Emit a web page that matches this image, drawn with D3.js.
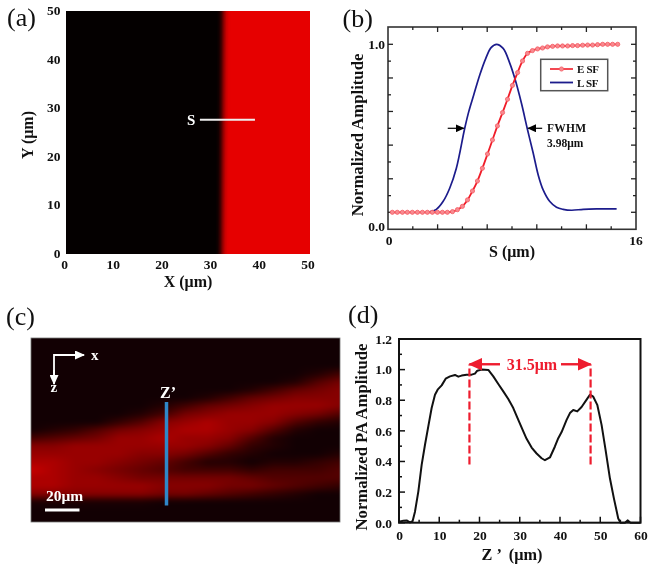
<!DOCTYPE html>
<html><head><meta charset="utf-8">
<script src="https://cdn.jsdelivr.net/npm/d3@7"></script>
<style>
html,body{margin:0;padding:0;background:#fff;}
#wrap{position:relative;width:655px;height:569px;overflow:hidden;}
canvas,svg{position:absolute;left:0;top:0;}
text{font-family:"Liberation Serif","Times New Roman",serif;font-weight:bold;fill:#111;}
</style></head><body><div id="wrap"></div>
<script>
// ---------- data ----------
const aTicks=[0,10,20,30,40,50];
const edgeX=[30.8,31.3,31.8,32.3,32.8,33.3,33.8];
const edgeLevel=[0,0.06,0.28,0.62,0.88,0.98,1];
const edgeShiftY=[0,50], edgeShift=[-0.2,0.1];
const sLine=[27.6,38.9], sLineY=27.5;

const esfS=[0.28,0.6,0.93,1.25,1.57,1.9,2.22,2.54,2.86,3.19,3.51,3.83,4.16,4.48,4.8,5.13,5.45,5.77,6.09,6.42,6.74,7.06,7.39,7.71,8.03,8.36,8.68,9,9.32,9.65,9.97,10.29,10.62,10.94,11.26,11.59,11.91,12.23,12.56,12.88,13.2,13.52,13.85,14.17,14.49,14.82];
const esfV=[.092,.092,.092,.092,.092,.092,.092,.092,.092,.092,.092,.092,.0955,.106,.124,.159,.207,.261,.33,.407,.483,.559,.631,.703,.778,.847,.91,.951,.966,.975,.98,.986,.989,.991,.991,.991,.993,.993,.995,.996,.996,.998,1,1,1,1];
const lsfS=[2.69,3.12,3.55,3.98,4.41,4.95,5.21,5.53,5.92,6.31,6.65,7,7.43,7.86,8.18,8.61,8.98,9.37,9.69,10.01,10.44,10.87,11.3,11.84,12.6,13.46,14.75];
const lsfV=[.094,.108,.15,.222,.33,.546,.636,.726,.834,.924,.982,1,.978,.897,.816,.681,.546,.411,.294,.213,.15,.119,.108,.103,.108,.11,.11];
const bMajorY=[1,.818,.637,.455,.273,.092];
const bMinorY=[.909,.727,.546,.364,.182];
const bTopTicks=[1.6,3.2,4.8,6.4,8,9.6,11.2,12.8,14.4];
const fwhmV=.546, fwhmLeft=4.95, fwhmRight=8.98;

const cRows=[
[0,0,0,0,0,0,0,0,0,0,0,0,0,0,0],
[0,0,0,0,0,0,0,0,0,0,0,0,0,1,3],
[0,0,0,0,0,0,0,0,0,0,0,0,1,4,6],
[0,0,0,0,0,0,0,0,0,0,1,3,5,6,7],
[0,0,0,0,0,0,0,0,1,3,5,6,7,7,7],
[0,0,0,0,0,0,1,3,5,6,7,8,8,8,7],
[0,0,0,0,0,1,3,6,7,8,8,8,7,6,4],
[0,0,0,0,2,4,7,8,9,8,8,7,4,2,1],
[0,1,2,4,6,7,8,9,9,8,7,4,1,0,0],
[3,4,5,6,8,8,9,8,8,7,4,1,0,0,0],
[7,7,8,8,8,8,8,8,7,5,2,1,0,0,0],
[8,8,8,8,8,7,7,6,4,2,1,0,0,0,1],
[9,9,8,8,7,6,5,3,1,1,0,1,1,2,3],
[10,9,8,7,6,5,4,3,3,3,2,3,3,3,4],
[9,9,8,8,7,6,6,6,6,6,5,4,4,4,4],
[9,9,8,8,8,8,7,7,7,6,6,5,4,3,2],
[7,7,7,7,7,7,6,6,5,4,3,2,1,0,0],
[.5,.5,.5,.5,.5,.5,0,0,0,0,0,0,0,0,0],
[0,0,0,0,0,0,0,0,0,0,0,0,0,0,0]];
const cLevels=[0,3,5,8,9,10];
const cColors=["#120003","#420000","#640000","#980000","#ac0000","#c80000"];

const dZ=[0,1.08,1.9,2.73,3.39,3.97,4.8,5.63,6.46,7.28,8.11,8.94,9.6,10.6,11.59,12.67,13.91,14.74,15.56,16.8,18.05,18.87,19.45,20.53,22.19,23.43,24.67,25.91,27.15,28.39,29.64,30.88,31.7,32.95,34.19,35.43,36.26,37.5,38.74,39.57,40.4,41.64,42.47,43.29,44.29,45.36,46.61,47.43,48.26,49.26,50.33,51.32,52.4,53.39,54.47,55.05,56.13,56.79,57.53,60];
const dV=[.007,.013,.015,.002,.011,.072,.203,.378,.509,.629,.749,.836,.869,.897,.941,.956,.965,.954,.961,.967,.967,.974,.993,1,.998,.956,.906,.858,.808,.749,.672,.596,.548,.491,.452,.421,.408,.426,.498,.552,.592,.672,.716,.736,.727,.756,.804,.836,.823,.77,.639,.476,.29,.159,.028,0,0,.015,0,0];
const dXMajor=[0,10,20,30,40,50,60], dXMinor=[5,15,25,35,45,55];
const dYMajor=[0,.2,.4,.6,.8,1,1.2], dYMinor=[.1,.3,.5,.7,.9,1.1];
const dMarks=[17.5,47.6], dMarkFrom=.38, dMarkTo=1.03, dArrowY=1.035;
const widthLabel="31.5μm";

// ---------- layout ----------
const wrap=d3.select("#wrap");
function addCanvas(x,y,w,h){
  return wrap.append("canvas").attr("width",w).attr("height",h)
    .style("left",x+"px").style("top",y+"px").node().getContext("2d");
}
const A={l:65.5,r:309,t:10.5,b:253};
const B={l:388,r:636,t:27,b:229.3};
const C={l:31,r:340,t:338,b:522};
const D={l:399,r:640.5,t:339,b:522.7};

// panel a image
(function(){
  const w=Math.round(A.r-A.l),h=Math.round(A.b-A.t),ctx=addCanvas(A.l,A.t,w,h),img=ctx.createImageData(w,h);
  const xs=d3.scaleLinear([0,w],[0,50]),ys=d3.scaleLinear([0,h],[50,0]);
  const lvl=d3.scaleLinear(edgeX,edgeLevel).clamp(true),sh=d3.scaleLinear(edgeShiftY,edgeShift);
  const col=d3.scaleLinear([0,1],["#040000","#e60000"]);
  for(let j=0;j<h;j++)for(let i=0;i<w;i++){
    const c=d3.rgb(col(lvl(xs(i+.5)-sh(ys(j+.5)))));const k=4*(j*w+i);
    img.data[k]=c.r;img.data[k+1]=c.g;img.data[k+2]=c.b;img.data[k+3]=255;
  }
  ctx.putImageData(img,0,0);
})();

// panel c image
(function(){
  const w=C.r-C.l,h=C.b-C.t,ctx=addCanvas(C.l,C.t,w,h),img=ctx.createImageData(w,h);
  const ci=d3.scaleLinear([0,w],[0,cRows[0].length-1]).clamp(true);
  const ri=d3.scaleLinear([28,172],[0,cRows.length-1]).clamp(true);
  const col=d3.scaleLinear(cLevels,cColors).clamp(true);
  const vals=new Float64Array(w*h);
  for(let j=0;j<h;j++){
    const r=ri(j+.5),r0=Math.floor(r),r1=Math.min(r0+1,cRows.length-1),fr=r-r0;
    for(let i=0;i<w;i++){
      const q=ci(i+.5),c0=Math.floor(q),c1=Math.min(c0+1,cRows[0].length-1),fc=q-c0;
      const top=cRows[r0][c0]*(1-fc)+cRows[r0][c1]*fc,bot=cRows[r1][c0]*(1-fc)+cRows[r1][c1]*fc;
      vals[j*w+i]=top*(1-fr)+bot*fr;
    }
  }
  if(d3.blur2)d3.blur2({data:vals,width:w,height:h},1.5);
  for(let n=0;n<w*h;n++){
    const c=d3.rgb(col(vals[n]));
    img.data[4*n]=c.r;img.data[4*n+1]=c.g;img.data[4*n+2]=c.b;img.data[4*n+3]=255;
  }
  ctx.putImageData(img,0,0);
})();

const svg=wrap.append("svg").attr("width",655).attr("height",569);
const defs=svg.append("defs");
function marker(id,color,size){
  defs.append("marker").attr("id",id).attr("viewBox","0 0 10 10").attr("refX",9).attr("refY",5)
    .attr("markerUnits","userSpaceOnUse").attr("markerWidth",size).attr("markerHeight",size*.9)
    .attr("orient","auto").attr("preserveAspectRatio","none")
    .append("path").attr("d","M0,0L10,5L0,10Z").attr("fill",color);
}
marker("hBlack","#000",9);marker("hWhite","#fff",10);marker("hRed","#ee1c2e",14);

function txt(x,y,s,size,opt={}){
  const t=svg.append("text").attr("x",x).attr("y",y).text(s).attr("font-size",size);
  if(opt.anchor)t.attr("text-anchor",opt.anchor);
  if(opt.fill)t.style("fill",opt.fill);
  if(opt.normal)t.style("font-weight","normal");
  if(opt.rotate)t.attr("transform",`rotate(-90 ${x} ${y})`);
  if(opt.ls)t.attr("letter-spacing",opt.ls);
  return t;
}
function styleAxis(g,size){
  g.selectAll("text").attr("font-size",size).attr("font-family",null);
  g.attr("font-family",null).attr("font-size",null);
}
txt(7,26,"(a)",26,{normal:true});
txt(342.5,26.5,"(b)",26,{normal:true});
txt(6,325,"(c)",26,{normal:true});
txt(348,323,"(d)",26,{normal:true});

// ---------- panel a ----------
const ax=d3.scaleLinear([0,50],[A.l,A.r]),ay=d3.scaleLinear([0,50],[A.b,A.t]);
let g=svg.append("g").attr("transform",`translate(0,${A.b})`)
  .call(d3.axisBottom(ax).tickValues(aTicks).tickSize(0).tickPadding(6));
g.select(".domain").remove();styleAxis(g,13.5);g.selectAll("text").attr("dx",-1.5);
g=svg.append("g").attr("transform",`translate(${A.l},0)`)
  .call(d3.axisLeft(ay).tickValues(aTicks).tickSize(0).tickPadding(5));
g.select(".domain").remove();styleAxis(g,13.5);
txt(188,287,"X (μm)",16,{anchor:"middle"});
txt(33,135,"Y (μm)",16,{anchor:"middle",rotate:true});
svg.append("line").attr("x1",ax(sLine[0])).attr("x2",ax(sLine[1])).attr("y1",ay(sLineY)).attr("y2",ay(sLineY))
  .attr("stroke","#eee").attr("stroke-width",2);
txt(187,125,"S",15,{fill:"#fff"});

// ---------- panel b ----------
const bx=d3.scaleLinear([0,16],[B.l,B.r]),by=d3.scaleLinear([0,1],[B.b,44.3]);
function ticks(parent,vals,fn,len){
  parent.selectAll(null).data(vals).join("line").each(function(d){
    const p=fn(d);d3.select(this).attr("x1",p[0]).attr("y1",p[1]).attr("x2",p[0]+p[2]*len).attr("y2",p[1]+p[3]*len);
  }).attr("stroke","#222").attr("stroke-width",1.3);
}
const bg=svg.append("g");
bg.append("rect").attr("x",B.l).attr("y",B.t).attr("width",B.r-B.l).attr("height",B.b-B.t)
  .attr("fill","none").attr("stroke","#333").attr("stroke-width",1.6);
ticks(bg,bMajorY,d=>[B.l,by(d),1,0],5);ticks(bg,bMajorY,d=>[B.r,by(d),-1,0],5);
ticks(bg,bMinorY,d=>[B.l,by(d),1,0],3);ticks(bg,bMinorY,d=>[B.r,by(d),-1,0],3);
bTopTicks.forEach((t,i)=>{
  const len=i%2?5:3;
  ticks(bg,[t],d=>[bx(d),B.b,0,-1],len);ticks(bg,[t],d=>[bx(d),B.t,0,1],len);
});
txt(385,49,"1.0",13.5,{anchor:"end"});
txt(385,230.5,"0.0",13.5,{anchor:"end"});
txt(389,245,"0",13.5,{anchor:"middle"});
txt(636,245,"16",13.5,{anchor:"middle"});
txt(512,257,"S (μm)",16,{anchor:"middle"});
txt(363,135,"Normalized Amplitude",16.7,{anchor:"middle",rotate:true});
const lineB=(xs,ys)=>d3.line().x((d,i)=>bx(xs[i])).y((d,i)=>by(ys[i])).curve(d3.curveCatmullRom)(xs);
svg.append("path").attr("d",lineB(lsfS,lsfV)).attr("fill","none").attr("stroke","#1c1c8c").attr("stroke-width",1.7);
svg.append("path").attr("d",lineB(esfS,esfV)).attr("fill","none").attr("stroke","#f01c28").attr("stroke-width",1.8);
svg.append("g").selectAll("circle").data(esfS).join("circle")
  .attr("cx",d=>bx(d)).attr("cy",(d,i)=>by(esfV[i])).attr("r",2.1)
  .attr("fill","#f88a90").attr("stroke","#f55a62").attr("stroke-width",.8);
// legend
svg.append("rect").attr("x",540.7).attr("y",59.3).attr("width",67).attr("height",31.4)
  .attr("fill","#fff").attr("stroke","#555").attr("stroke-width",1.5);
svg.append("line").attr("x1",550).attr("x2",573).attr("y1",69).attr("y2",69).attr("stroke","#f01c28").attr("stroke-width",1.6);
svg.append("circle").attr("cx",561.5).attr("cy",69).attr("r",2.1).attr("fill","#f88a90").attr("stroke","#f55a62").attr("stroke-width",.8);
svg.append("line").attr("x1",550).attr("x2",573).attr("y1",82.5).attr("y2",82.5).attr("stroke","#1c1c8c").attr("stroke-width",1.8);
txt(577,73,"E SF",11,{ls:-.3});txt(577,86.5,"L SF",11,{ls:-.3});
// FWHM
svg.append("line").attr("x1",bx(fwhmLeft)-17).attr("x2",bx(fwhmLeft)-1).attr("y1",by(fwhmV)).attr("y2",by(fwhmV))
  .attr("stroke","#000").attr("stroke-width",1.2).attr("marker-end","url(#hBlack)");
svg.append("line").attr("x1",bx(fwhmRight)+15).attr("x2",bx(fwhmRight)+1).attr("y1",by(fwhmV)).attr("y2",by(fwhmV))
  .attr("stroke","#000").attr("stroke-width",1.2).attr("marker-end","url(#hBlack)");
txt(547,132,"FWHM",11.5,{ls:.3});
txt(547,147,"3.98μm",11.5);

// ---------- panel c ----------
svg.append("rect").attr("x",C.l).attr("y",C.t).attr("width",C.r-C.l).attr("height",C.b-C.t)
  .attr("fill","none").attr("stroke","#777").attr("stroke-width",.8);
svg.append("path").attr("d","M54,383V355H83").attr("fill","none").attr("stroke","#fff").attr("stroke-width",1.8);
svg.append("line").attr("x1",54).attr("y1",370).attr("x2",54).attr("y2",384).attr("stroke","#fff").attr("stroke-width",1.8).attr("marker-end","url(#hWhite)");
svg.append("line").attr("x1",68).attr("y1",355).attr("x2",84).attr("y2",355).attr("stroke","#fff").attr("stroke-width",1.8).attr("marker-end","url(#hWhite)");
txt(91,360,"x",15,{fill:"#fff"});
txt(50.5,392,"z",15,{fill:"#fff"});
txt(168,398,"Z’",16,{fill:"#fff",anchor:"middle"});
svg.append("line").attr("x1",166.5).attr("x2",166.5).attr("y1",402).attr("y2",505.5).attr("stroke","#2f86c8").attr("stroke-width",3.5);
txt(46,501,"20μm",15.5,{fill:"#fff"});
svg.append("line").attr("x1",45).attr("x2",79.5).attr("y1",510).attr("y2",510).attr("stroke","#fff").attr("stroke-width",3);

// ---------- panel d ----------
const dx=d3.scaleLinear([0,60],[D.l,D.r]),dy=d3.scaleLinear([0,1.2],[D.b,D.t]);
const dg=svg.append("g");
ticks(dg,dXMajor,d=>[dx(d),D.b,0,-1],6);ticks(dg,dXMinor,d=>[dx(d),D.b,0,-1],3);
ticks(dg,dYMajor,d=>[D.l,dy(d),1,0],6);ticks(dg,dYMinor,d=>[D.l,dy(d),1,0],3);
dg.selectAll("line").attr("stroke","#111").attr("stroke-width",1.5);
g=svg.append("g").attr("transform",`translate(0,${D.b})`)
  .call(d3.axisBottom(dx).tickValues(dXMajor).tickFormat(d3.format("d")).tickSize(0).tickPadding(8));
g.select(".domain").remove();styleAxis(g,13.5);
g=svg.append("g").attr("transform",`translate(${D.l},0)`)
  .call(d3.axisLeft(dy).tickValues(dYMajor).tickFormat(d3.format(".1f")).tickSize(0).tickPadding(7));
g.select(".domain").remove();styleAxis(g,13.5);
svg.append("rect").attr("x",D.l).attr("y",D.t).attr("width",D.r-D.l).attr("height",D.b-D.t)
  .attr("fill","none").attr("stroke","#111").attr("stroke-width",2);
txt(512,560,"Z ’  (μm)",16.3,{anchor:"middle"}).style("white-space","pre");
txt(367,437,"Normalized PA Amplitude",16.7,{anchor:"middle",rotate:true});
svg.append("path").attr("d",d3.line().x((d,i)=>dx(dZ[i])).y((d,i)=>dy(dV[i]))(dZ))
  .attr("fill","none").attr("stroke","#111").attr("stroke-width",2).attr("stroke-linejoin","round");
svg.append("g").selectAll("line").data(dMarks).join("line")
  .attr("x1",d=>dx(d)).attr("x2",d=>dx(d)).attr("y1",dy(dMarkFrom)).attr("y2",dy(dMarkTo))
  .attr("stroke","#ee1c2e").attr("stroke-width",2.2).attr("stroke-dasharray","8 3");
svg.append("line").attr("x1",500).attr("x2",dx(dMarks[0])).attr("y1",dy(dArrowY)).attr("y2",dy(dArrowY))
  .attr("stroke","#ee1c2e").attr("stroke-width",2.4).attr("marker-end","url(#hRed)");
svg.append("line").attr("x1",561).attr("x2",dx(dMarks[1])).attr("y1",dy(dArrowY)).attr("y2",dy(dArrowY))
  .attr("stroke","#ee1c2e").attr("stroke-width",2.4).attr("marker-end","url(#hRed)");
txt(532,370,widthLabel,16,{anchor:"middle",fill:"#ee1c2e"});
</script></body></html>
